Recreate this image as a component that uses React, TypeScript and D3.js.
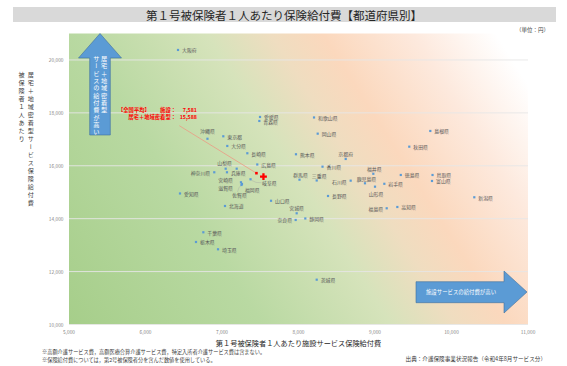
import React from 'react';
import * as d3 from 'd3';

const prefectures = ['大阪府','愛媛県','青森県','和歌山県','岡山県','島根県','秋田県','沖縄県','東京都','大分県','長崎県','熊本県','京都府','広島県','山梨県','宮崎県','兵庫県','神奈川県','香川県','福井県','徳島県','鳥取県','富山県','群馬県','三重県','石川県','鹿児島県','岩手県','山形県','岐阜県','滋賀県','福岡県','佐賀県','長野県','新潟県','愛知県','山口県','北海道','福島県','高知県','宮城県','奈良県','静岡県','千葉県','栃木県','埼玉県','茨城県'];
const facilityCost = [6425,7497,7488,8203,8251,9723,9448,6810,7017,7069,7331,7967,8617,7461,7048,7192,7065,6899,8314,8978,9337,9752,9745,8013,8238,8682,8869,9122,9000,7373,7248,7261,7255,8386,10298,6451,7641,7039,9153,9292,7976,7963,8089,6756,6660,6948,8238];
const homeCost = [20378,17845,17694,17826,17214,17316,16722,17021,17115,16749,16473,16435,16257,16049,15890,15890,15754,15754,15966,15698,15652,15652,15425,15474,15444,15437,15338,15319,15210,15490,15376,15312,15274,14858,14809,14953,14677,14480,14393,14442,14204,13951,14008,13486,13119,12843,11694];

const avgFacility = 7581;
const avgHome = 15588;

const xTicks = [5000,6000,7000,8000,9000,10000,11000];
const yTicks = [10000,12000,14000,16000,18000,20000];

const titleText = '第１号被保険者１人あたり保険給付費【都道府県別】';
const unitText = '（単位：円）';
const xTitle = '第１号被保険者１人あたり施設サービス保険給付費';
const yTitleCol1 = '被保険者１人あたり';
const yTitleCol2 = '居宅＋地域密着型サービス保険給付費';
const upArrowCol1 = '居宅＋地域密着型';
const upArrowCol2 = 'サービスの給付費が高い';
const rightArrowText = '施設サービスの給付費が高い';
const notes = ['※高額介護サービス費，高額医療合算介護サービス費，特定入所者介護サービス費は含まない。','※保険給付費については，第2号被保険者分を含んだ数値を使用している。'];
const sourceText = '出典：介護保険事業状況報告（令和4年8月サービス分）';

// label placement (layout only): [dx, dy, anchor]
const labelPlacement: Record<string, [number, number, string]> = {
  '愛媛県': [4, -0.6, 'start'],
  '青森県': [4, 0.6, 'start'],
  '沖縄県': [0, -8, 'middle'],
  '京都府': [0, -5.5, 'middle'],
  '山梨県': [-1, -6, 'middle'],
  '宮崎県': [-3.7, 10.6, 'end'],
  '神奈川県': [-4, 0, 'end'],
  '福井県': [1, -5.5, 'middle'],
  '群馬県': [1, -5.4, 'middle'],
  '三重県': [2.5, -5, 'middle'],
  '石川県': [-4, 1, 'end'],
  '鹿児島県': [1.5, -4.8, 'middle'],
  '山形県': [1, 6.6, 'middle'],
  '岐阜県': [11.5, 3, 'start'],
  '滋賀県': [-8, 5.4, 'end'],
  '福岡県': [3, 5.3, 'start'],
  '佐賀県': [-2, 10, 'middle'],
  '福島県': [-3.5, 0.4, 'end'],
  '宮城県': [0, -6, 'middle'],
  '奈良県': [-3.5, 0, 'end'],
};

const FONT = "'Noto Sans CJK JP', 'Noto Sans', sans-serif";

function VText({ text, x, y0, step, size, fill }: any) {
  return (
    <text x={x} y={y0 - size / 2} fontSize={size} fill={fill} fontFamily={FONT}
      style={{ writingMode: 'vertical-rl', letterSpacing: `${step - size}px` } as any}>{text}</text>
  );
}

export default function App() {
  const W = 567, H = 366;
  const x = d3.scaleLinear().domain([5000, 11000]).range([69, 528]);
  const y = d3.scaleLinear().domain([10000, 21000]).range([324.5, 33.5]);
  const fmt = d3.format(',');
  const [x0, x1] = x.range();
  const [yb, yt] = y.range();

  const points = prefectures.map((name, i) => ({ name, fx: facilityCost[i], hy: homeCost[i] }));

  const ax = x(avgFacility) - 3, ay = y(avgHome);
  const calloutEnd: [number, number] = [ax - 7, ay - 3.5];

  const upCx = 100;
  const upArrow = `M${upCx},${yt} L${upCx + 21.5},58 L${upCx + 10.3},58 L${upCx + 10.3},135 L${upCx - 10.3},135 L${upCx - 10.3},58 L${upCx - 21.5},58 Z`;
  const rightArrow = `M416,281.7 L504,281.7 L504,271 L527,292 L504,313 L504,302.7 L416,302.7 Z`;

  return (
    <svg width={W} height={H} style={{ position: 'absolute', left: 0, top: 0, background: '#ffffff' }} fontFamily={FONT}>
      <defs>
        <linearGradient id="bg" gradientUnits="userSpaceOnUse" x1={x0} y1={yb} x2={x1} y2={yt}>
          <stop offset="0" stopColor="#a6ce8a" />
          <stop offset="0.3" stopColor="#b9d9a2" />
          <stop offset="0.5" stopColor="#d6e3bb" />
          <stop offset="0.6" stopColor="#efddc0" />
          <stop offset="0.68" stopColor="#fbd8bd" />
          <stop offset="0.82" stopColor="#fde9dd" />
          <stop offset="0.95" stopColor="#ffffff" />
        </linearGradient>
      </defs>

      <rect x={13} y={7} width={543} height={15} fill="#d9d9d9" />
      <text x={284} y={15} fontSize={11.5} fill="#262626" textAnchor="middle" dominantBaseline="central">{titleText}</text>
      <text x={549} y={30} fontSize={5.5} fill="#404040" textAnchor="end" dominantBaseline="central">{unitText}</text>

      <rect x={x0} y={yt} width={x1 - x0} height={yb - yt} fill="url(#bg)" />

      {yTicks.map(t => (
        <line key={t} x1={x0} x2={x1} y1={y(t)} y2={y(t)} stroke="#e6e6e6" strokeWidth={0.9} />
      ))}

      {yTicks.map(t => (
        <text key={t} x={63.5} y={y(t)} fontSize={4.8} fill="#7f7f7f" textAnchor="end" dominantBaseline="central">{fmt(t)}</text>
      ))}
      {xTicks.map(t => (
        <text key={t} x={x(t)} y={331.5} fontSize={4.8} fill="#7f7f7f" textAnchor="middle" dominantBaseline="central">{fmt(t)}</text>
      ))}

      <path d={upArrow} fill="#5b9bd5" stroke="#41719c" strokeWidth={0.6} />
      <VText text={upArrowCol1} x={104.2} y0={58.5} step={7.34} size={6.2} fill="#ffffff" />
      <VText text={upArrowCol2} x={96.3} y0={58.5} step={7.34} size={6.2} fill="#ffffff" />

      <path d={rightArrow} fill="#5b9bd5" stroke="#41719c" strokeWidth={0.6} />
      <text x={461} y={292.3} fontSize={5.4} fill="#ffffff" textAnchor="middle" dominantBaseline="central">{rightArrowText}</text>

      <path d={`M${x(7373) + 1},${y(15490) + 1} Q${x(7373) + 5},${y(15490) + 4} ${x(7373) + 11},${y(15490) + 3.5}`} fill="none" stroke="#a6a6a6" strokeWidth={0.4} />
      <path d={`M${x(7255) - 4},${y(15274) + 7} Q${x(7255) - 3},${y(15274) + 2} ${x(7255) - 0.5},${y(15274) + 0.5}`} fill="none" stroke="#a6a6a6" strokeWidth={0.4} />

      {points.map(p => (
        <rect key={p.name} x={x(p.fx) - 1.1} y={y(p.hy) - 1.1} width={2.2} height={2.2} fill="#5b9bd5" />
      ))}
      {points.map(p => {
        const pl = labelPlacement[p.name] || [4, 0, 'start'];
        return (
          <text key={p.name} x={x(p.fx) + pl[0]} y={y(p.hy) + pl[1]} fontSize={4.9} fill="#595959"
            textAnchor={pl[2] as any} dominantBaseline="central">{p.name}</text>
        );
      })}

      <line x1={179.3} y1={125.7} x2={calloutEnd[0]} y2={calloutEnd[1]} stroke="#ec9a84" strokeWidth={0.8} />
      <rect x={calloutEnd[0] - 1.3} y={calloutEnd[1] - 1.3} width={2.6} height={2.6} fill="#ff0000" />
      <path d={d3.symbol().type(d3.symbolCross).size(26)() as string} transform={`translate(${ax},${ay})`} fill="#ff0000" />
      <g fill="#ff0000" fontWeight="bold" fontSize={5.3}>
        <text x={118} y={109.5} dominantBaseline="central">【全国平均】</text>
        <text x={176} y={109.5} textAnchor="end" dominantBaseline="central">施設：</text>
        <text x={197} y={109.5} textAnchor="end" dominantBaseline="central">{fmt(avgFacility)}</text>
        <text x={176} y={117} textAnchor="end" dominantBaseline="central">居宅＋地域密着型：</text>
        <text x={197} y={117} textAnchor="end" dominantBaseline="central">{fmt(avgHome)}</text>
      </g>

      <text x={(x0 + x1) / 2} y={342.5} fontSize={7.2} fill="#262626" textAnchor="middle" dominantBaseline="central">{xTitle}</text>
      <VText text={yTitleCol2} x={30.8} y0={75} step={7.98} size={6.1} fill="#404040" />
      <VText text={yTitleCol1} x={21.5} y0={75} step={7.98} size={6.1} fill="#404040" />

      {notes.map((n, i) => (
        <text key={i} x={42} y={351.5 + i * 7.5} fontSize={5.2} fill="#404040" dominantBaseline="central">{n}</text>
      ))}
      <text x={546} y={359} fontSize={5.6} fill="#404040" textAnchor="end" dominantBaseline="central">{sourceText}</text>
    </svg>
  );
}
